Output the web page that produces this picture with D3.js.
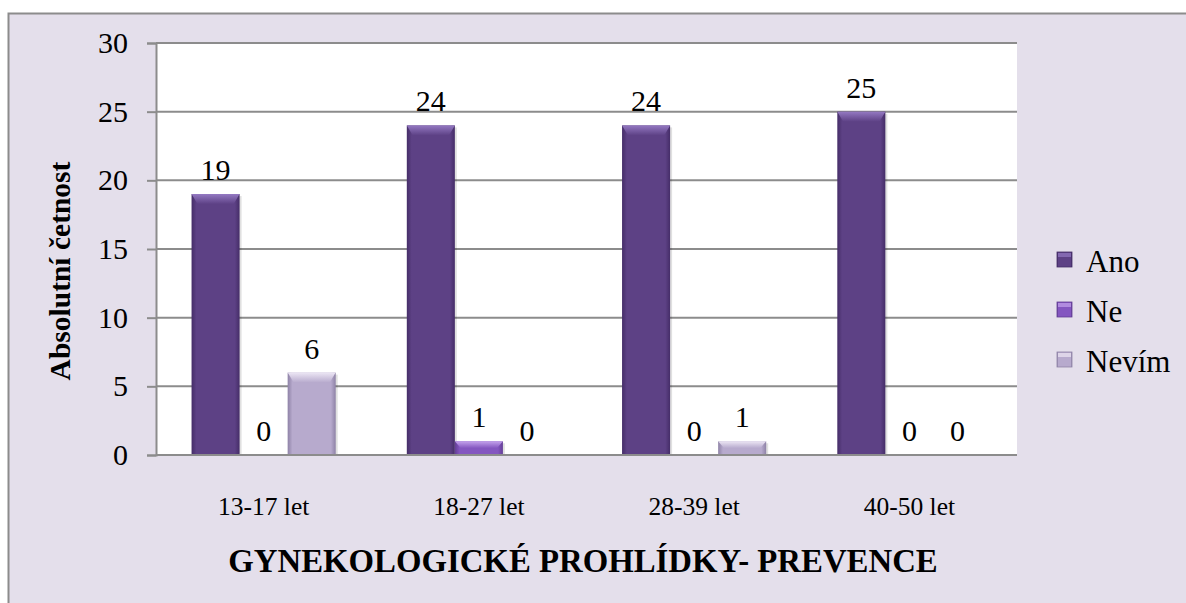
<!DOCTYPE html>
<html>
<head>
<meta charset="utf-8">
<script src="https://cdn.jsdelivr.net/npm/d3@7"></script>
<style>
  html, body { margin: 0; padding: 0; background: #ffffff; }
  svg { display: block; }
  svg text { font-family: "Liberation Serif", "Times New Roman", serif; }
</style>
</head>
<body>
<svg id="chart" width="1186" height="603"></svg>
<script>
// Age groups and answers to the question about preventive gynecological check-ups
const categories = ["13-17 let", "18-27 let", "28-39 let", "40-50 let"];
const seriesNames = ["Ano", "Ne", "Nevím"];
const ano   = [19, 24, 24, 25];
const ne    = [0, 1, 0, 0];
const nevim = [6, 0, 1, 0];
const yTicks = [0, 5, 10, 15, 20, 25, 30];
const yTitle = "Absolutní četnost";
const xTitle = "GYNEKOLOGICKÉ PROHLÍDKY- PREVENCE";

const seriesValues = [ano, ne, nevim];
const rows = categories.map((c, i) => ({
  category: c,
  values: seriesNames.map((s, k) => ({ series: s, value: seriesValues[k][i] }))
}));

const svg = d3.select("#chart");
const W = 1186, H = 603;
const SERIF = "Liberation Serif, Times New Roman, serif";

// colour per series: base, light (bevel top), dark (edges)
const palette = {
  "Ano":   { base: "#5d4185", light: "#9479c2", dark: "#452d68" },
  "Ne":    { base: "#8456c0", light: "#c4a2ec", dark: "#633e95" },
  "Nevím": { base: "#b7aacd", light: "#ece6f4", dark: "#8e82a6" }
};

const defs = svg.append("defs");
seriesNames.forEach((s, i) => {
  const p = palette[s];
  const g = defs.append("linearGradient").attr("id", "grad" + i)
    .attr("x1", 0).attr("x2", 1).attr("y1", 0).attr("y2", 0);
  g.append("stop").attr("offset", "0%").attr("stop-color", p.dark);
  g.append("stop").attr("offset", "10%").attr("stop-color", p.base);
  g.append("stop").attr("offset", "90%").attr("stop-color", p.base);
  g.append("stop").attr("offset", "100%").attr("stop-color", p.dark);
  const gt = defs.append("linearGradient").attr("id", "top" + i)
    .attr("x1", 0).attr("x2", 0).attr("y1", 0).attr("y2", 1);
  gt.append("stop").attr("offset", "0%").attr("stop-color", p.light);
  gt.append("stop").attr("offset", "100%").attr("stop-color", p.base);
});

// outer chart frame
svg.append("rect")
  .attr("x", 8.5).attr("y", 13.5)
  .attr("width", W + 20).attr("height", H + 20)
  .attr("fill", "#e4dfeb")
  .attr("stroke", "#8c8c8c").attr("stroke-width", 2);

const plot = { left: 156, right: 1017, top: 43, bottom: 455 };

// plot background
svg.append("rect")
  .attr("x", plot.left).attr("y", plot.top)
  .attr("width", plot.right - plot.left).attr("height", plot.bottom - plot.top)
  .attr("fill", "#ffffff");

const y = d3.scaleLinear().domain([0, 30]).range([plot.bottom, plot.top]);
const x0 = d3.scaleBand().domain(categories).range([plot.left, plot.right]).padding(0);
const x1 = d3.scaleBand().domain(seriesNames).range([0, x0.bandwidth()])
  .paddingInner(0).paddingOuter(0.74);

// gridlines
svg.append("g")
  .selectAll("line")
  .data(yTicks.filter(t => t > 0))
  .join("line")
  .attr("x1", plot.left).attr("x2", plot.right)
  .attr("y1", d => y(d)).attr("y2", d => y(d))
  .attr("stroke", "#8c8c8c").attr("stroke-width", 2);

// y axis
const yAxis = svg.append("g")
  .attr("transform", `translate(${plot.left},0)`)
  .call(d3.axisLeft(y).tickValues(yTicks).tickSize(9).tickPadding(19));
yAxis.attr("font-family", SERIF);
yAxis.select(".domain").attr("stroke", "#8c8c8c").attr("stroke-width", 2);
yAxis.selectAll(".tick line").attr("stroke", "#8c8c8c").attr("stroke-width", 2);
yAxis.selectAll(".tick text")
  .attr("font-family", SERIF)
  .attr("font-size", 30).attr("fill", "#000");

// bars
const groups = svg.append("g").selectAll("g")
  .data(rows).join("g")
  .attr("transform", d => `translate(${x0(d.category)},0)`);

const barW = x1.bandwidth();
groups.each(function (row) {
  const g = d3.select(this);
  row.values.forEach((v, k) => {
    if (v.value <= 0) return;
    const bx = x1(v.series), by = y(v.value), bh = y(0) - y(v.value);
    // soft shadow
    g.append("rect")
      .attr("x", bx + 2).attr("y", by + 2)
      .attr("width", barW).attr("height", bh - 1)
      .attr("fill", "#000").attr("opacity", 0.12);
    g.append("rect")
      .attr("x", bx).attr("y", by)
      .attr("width", barW).attr("height", bh)
      .attr("fill", `url(#grad${k})`);
    // bevelled top edge
    const bev = Math.min(10, bh / 2);
    g.append("path")
      .attr("d", `M${bx},${by} L${bx + barW},${by} L${bx + barW - 6},${by + bev} L${bx + 6},${by + bev} Z`)
      .attr("fill", `url(#top${k})`);
  });
});

// x axis line
svg.append("line")
  .attr("x1", plot.left).attr("x2", plot.right)
  .attr("y1", plot.bottom).attr("y2", plot.bottom)
  .attr("stroke", "#8c8c8c").attr("stroke-width", 2);

// value labels
groups.selectAll("text.val")
  .data(d => d.values)
  .join("text")
  .attr("class", "val")
  .attr("x", d => x1(d.series) + barW / 2)
  .attr("y", d => y(d.value) - 14)
  .attr("text-anchor", "middle")
  .attr("font-family", SERIF)
  .attr("font-size", 30)
  .attr("fill", "#000")
  .text(d => d.value);

// category labels
svg.append("g").selectAll("text")
  .data(categories).join("text")
  .attr("x", d => x0(d) + x0.bandwidth() / 2)
  .attr("y", 515)
  .attr("text-anchor", "middle")
  .attr("font-family", SERIF)
  .attr("font-size", 25.5)
  .attr("fill", "#000")
  .text(d => d);

// axis titles
svg.append("text")
  .attr("transform", `translate(70,271) rotate(-90)`)
  .attr("text-anchor", "middle")
  .attr("font-family", SERIF)
  .attr("font-size", 29.5).attr("font-weight", "bold")
  .attr("fill", "#000")
  .text(yTitle);

svg.append("text")
  .attr("x", 583)
  .attr("y", 572)
  .attr("text-anchor", "middle")
  .attr("font-family", SERIF)
  .attr("font-size", 32.8).attr("font-weight", "bold")
  .attr("fill", "#000")
  .text(xTitle);

// legend
const legend = svg.append("g").selectAll("g")
  .data(seriesNames).join("g")
  .attr("transform", (d, i) => `translate(1057,${i * 50})`);
legend.append("rect")
  .attr("x", 0).attr("y", 252).attr("width", 15).attr("height", 15)
  .attr("fill", (d, i) => `url(#grad${i})`)
  .attr("stroke", d => palette[d].dark).attr("stroke-width", 0.8);
legend.append("rect")
  .attr("x", 1).attr("y", 253).attr("width", 13).attr("height", 4)
  .attr("fill", d => palette[d].light).attr("opacity", 0.7);
legend.append("text")
  .attr("x", 29).attr("y", 272)
  .attr("font-family", SERIF)
  .attr("font-size", 31)
  .attr("fill", "#000")
  .text(d => d);
</script>
</body>
</html>
